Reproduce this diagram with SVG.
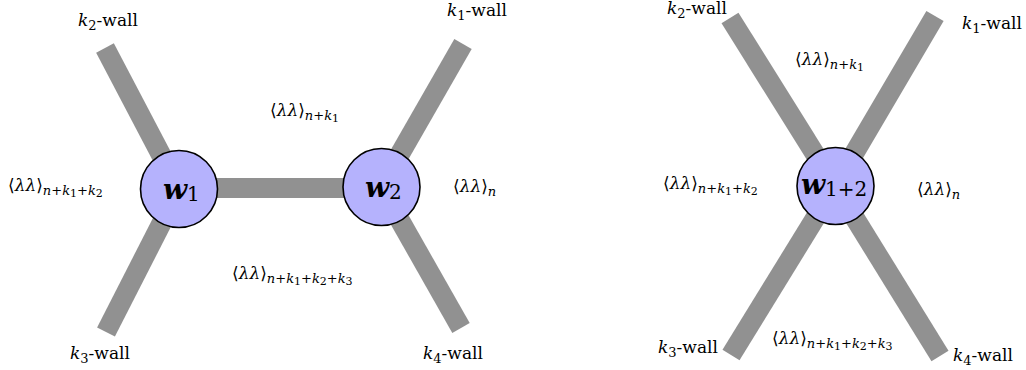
<svg xmlns="http://www.w3.org/2000/svg" width="1026" height="370" viewBox="0 0 1026 370">
<style>
.bar{stroke:#919191;stroke-width:20;fill:none;stroke-linecap:butt}
.node{fill:#b5b2fd;stroke:#000;stroke-width:1.6}
text{font-family:"DejaVu Serif","Liberation Serif",serif;fill:#000}
.t{font-size:17px}
.m{font-size:17px}
.i{font-style:italic}
.s{font-size:13px}
.ss{font-size:11px}
.w{font-size:28px;font-weight:bold;font-style:italic}
.wn{font-size:20px}
</style>
<g id="connectors">
<line class="bar" x1="105" y1="48" x2="179" y2="189"/>
<line class="bar" x1="106" y1="332" x2="179" y2="189"/>
<line class="bar" x1="179" y1="188" x2="381" y2="188"/>
<line class="bar" x1="463" y1="44" x2="381" y2="187"/>
<line class="bar" x1="461" y1="328" x2="381" y2="187"/>
<line class="bar" x1="730" y1="18" x2="835" y2="186"/>
<line class="bar" x1="935" y1="16" x2="835" y2="186"/>
<line class="bar" x1="731" y1="355" x2="835" y2="186"/>
<line class="bar" x1="940" y1="356" x2="835" y2="186"/>
</g>
<g id="w1">
<circle class="node" cx="179" cy="189" r="38.5"/>
<text x="163" y="199"><tspan class="w">w</tspan><tspan class="wn" dy="2">1</tspan></text>
</g>
<g id="w2">
<circle class="node" cx="381.5" cy="187" r="38.5"/>
<text x="365" y="197"><tspan class="w">w</tspan><tspan class="wn" dy="2">2</tspan></text>
</g>
<g id="w12">
<circle class="node" cx="835.5" cy="186" r="38.5"/>
<text x="801" y="194"><tspan class="w">w</tspan><tspan class="wn" dy="2">1+2</tspan></text>
</g>
<g id="labels">
<text class="t" x="78" y="26"><tspan class="i">k</tspan><tspan class="s" dy="4">2</tspan><tspan dy="-4">-wall</tspan></text>
<text class="t" x="447" y="16"><tspan class="i">k</tspan><tspan class="s" dy="4">1</tspan><tspan dy="-4">-wall</tspan></text>
<text class="t" x="70" y="359"><tspan class="i">k</tspan><tspan class="s" dy="4">3</tspan><tspan dy="-4">-wall</tspan></text>
<text class="t" x="423" y="359"><tspan class="i">k</tspan><tspan class="s" dy="4">4</tspan><tspan dy="-4">-wall</tspan></text>
<text class="t" x="667" y="14"><tspan class="i">k</tspan><tspan class="s" dy="4">2</tspan><tspan dy="-4">-wall</tspan></text>
<text class="t" x="962" y="29"><tspan class="i">k</tspan><tspan class="s" dy="4">1</tspan><tspan dy="-4">-wall</tspan></text>
<text class="t" x="658" y="353"><tspan class="i">k</tspan><tspan class="s" dy="4">3</tspan><tspan dy="-4">-wall</tspan></text>
<text class="t" x="953" y="361"><tspan class="i">k</tspan><tspan class="s" dy="4">4</tspan><tspan dy="-4">-wall</tspan></text>

<text class="m" x="270" y="116">⟨<tspan class="i">λλ</tspan>⟩<tspan class="s" dy="4"><tspan class="i">n</tspan>+<tspan class="i">k</tspan><tspan class="ss" dy="2">1</tspan></tspan></text>
<text class="m" x="8" y="191">⟨<tspan class="i">λλ</tspan>⟩<tspan class="s" dy="4"><tspan class="i">n</tspan>+<tspan class="i">k</tspan><tspan class="ss" dy="2">1</tspan><tspan dy="-2">+</tspan><tspan class="i">k</tspan><tspan class="ss" dy="2">2</tspan></tspan></text>
<text class="m" x="453" y="192">⟨<tspan class="i">λλ</tspan>⟩<tspan class="s i" dy="4">n</tspan></text>
<text class="m" x="232" y="279">⟨<tspan class="i">λλ</tspan>⟩<tspan class="s" dy="4"><tspan class="i">n</tspan>+<tspan class="i">k</tspan><tspan class="ss" dy="2">1</tspan><tspan dy="-2">+</tspan><tspan class="i">k</tspan><tspan class="ss" dy="2">2</tspan><tspan dy="-2">+</tspan><tspan class="i">k</tspan><tspan class="ss" dy="2">3</tspan></tspan></text>

<text class="m" x="795" y="65">⟨<tspan class="i">λλ</tspan>⟩<tspan class="s" dy="4"><tspan class="i">n</tspan>+<tspan class="i">k</tspan><tspan class="ss" dy="2">1</tspan></tspan></text>
<text class="m" x="663" y="189">⟨<tspan class="i">λλ</tspan>⟩<tspan class="s" dy="4"><tspan class="i">n</tspan>+<tspan class="i">k</tspan><tspan class="ss" dy="2">1</tspan><tspan dy="-2">+</tspan><tspan class="i">k</tspan><tspan class="ss" dy="2">2</tspan></tspan></text>
<text class="m" x="917" y="195">⟨<tspan class="i">λλ</tspan>⟩<tspan class="s i" dy="4">n</tspan></text>
<text class="m" x="772" y="344">⟨<tspan class="i">λλ</tspan>⟩<tspan class="s" dy="4"><tspan class="i">n</tspan>+<tspan class="i">k</tspan><tspan class="ss" dy="2">1</tspan><tspan dy="-2">+</tspan><tspan class="i">k</tspan><tspan class="ss" dy="2">2</tspan><tspan dy="-2">+</tspan><tspan class="i">k</tspan><tspan class="ss" dy="2">3</tspan></tspan></text>
</g>
</svg>
